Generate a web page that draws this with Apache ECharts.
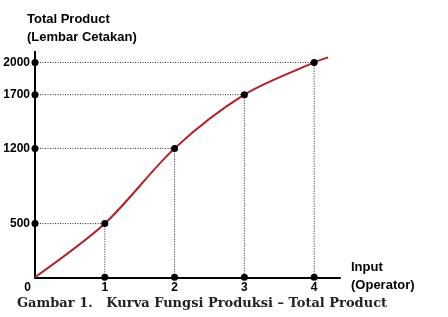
<!DOCTYPE html>
<html><head><meta charset="utf-8">
<script src="https://cdn.jsdelivr.net/npm/echarts@6/dist/echarts.min.js"></script>
<style>html,body{margin:0;padding:0;background:#fff}#c{width:448px;height:317px}</style>
</head><body><div id="c"></div>
<script>
const inputs = [0, 1, 2, 3, 4];
const totalProduct = [0, 500, 1200, 1700, 2000];
const curveEnd = [4.2, 2047];
const yTickLabels = [500, 1200, 1700, 2000];
const xTickLabels = [0, 1, 2, 3, 4];

const chart = echarts.init(document.getElementById('c'));
const curveData = inputs.map((x, i) => [x, totalProduct[i]]).concat([curveEnd]);
const guideSeries = [];
for (let i = 1; i < inputs.length; i++) {
  guideSeries.push({
    type: 'line',
    data: [[0, totalProduct[i]], [inputs[i], totalProduct[i]], [inputs[i], 0]],
    symbol: 'circle', symbolSize: 7,
    itemStyle: {color: '#000'},
    lineStyle: {color: '#222', width: 1, type: [1, 1.5]},
    z: 3, silent: true, animation: false
  });
}
chart.setOption({
  animation: false,
  grid: {left: 35, right: 108, top: 51.7, bottom: 39.7},
  xAxis: {
    type: 'value', min: 0, max: 4.37, interval: 1,
    axisLine: {lineStyle: {color: '#000', width: 2}},
    axisTick: {show: false}, splitLine: {show: false},
    axisLabel: {
      margin: 4, showMaxLabel: false,
      formatter: v => xTickLabels.indexOf(v) >= 0 ? (v === 0 ? '{z|0}' : String(v)) : '',
      color: '#000', fontFamily: 'Liberation Sans, Arial', fontWeight: 'bold', fontSize: 12,
      rich: {z: {padding: [0, 15, 0, 0], color: '#000', fontFamily: 'Liberation Sans', fontWeight: 'bold', fontSize: 12}}
    }
  },
  yAxis: {
    type: 'value', min: 0, max: 2100, interval: 100,
    axisLine: {show: true, lineStyle: {color: '#000', width: 2}},
    axisTick: {show: false}, splitLine: {show: false},
    axisLabel: {
      margin: 5,
      formatter: v => yTickLabels.indexOf(v) >= 0 ? String(v) : '',
      color: '#000', fontFamily: 'Liberation Sans, Arial', fontWeight: 'bold', fontSize: 12
    }
  },
  graphic: [
    {type: 'text', left: 27, top: 10, style: {text: 'Total Product\n(Lembar Cetakan)', font: 'bold 13px "Liberation Sans", Arial', fill: '#000', lineHeight: 18}},
    {type: 'text', left: 351, top: 258, style: {text: 'Input\n(Operator)', font: 'bold 13px "Liberation Sans", Arial', fill: '#000', lineHeight: 18}},
    {type: 'text', left: 17, top: 297, style: {text: 'Gambar 1.   Kurva Fungsi Produksi \u2013 Total Product', font: 'bold 13px "DejaVu Serif"', fill: '#222'}}
  ],
  series: guideSeries.concat([{
    type: 'line', data: curveData, smooth: 0.3, showSymbol: false, symbol: 'none',
    lineStyle: {color: '#b21f24', width: 2}, z: 2, silent: true
  }])
});
</script></body></html>
